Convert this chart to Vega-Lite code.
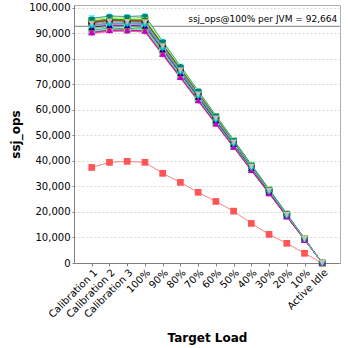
{
"$schema":"https://vega.github.io/schema/vega-lite/v6.json",
"width":266,"height":258,
"autosize":"none",
"padding":{"left":74,"top":5,"right":8,"bottom":85},
"background":"white",
"config":{"view":{"stroke":"#b0b0b0"},"font":"DejaVu Sans"},
"datasets":{"jvm":[
{"j":"j00","t":"Calibration 1","v":37400},{"j":"j00","t":"Calibration 2","v":39400},{"j":"j00","t":"Calibration 3","v":39800},{"j":"j00","t":"100%","v":39400},{"j":"j00","t":"90%","v":35100},{"j":"j00","t":"80%","v":31550},{"j":"j00","t":"70%","v":27650},{"j":"j00","t":"60%","v":24100},{"j":"j00","t":"50%","v":20300},{"j":"j00","t":"40%","v":15500},{"j":"j00","t":"30%","v":11200},{"j":"j00","t":"20%","v":7700},{"j":"j00","t":"10%","v":3800},{"j":"j00","t":"Active Idle","v":0},
{"j":"j01","t":"Calibration 1","v":95200},{"j":"j01","t":"Calibration 2","v":96000},{"j":"j01","t":"Calibration 3","v":95900},{"j":"j01","t":"100%","v":96100},{"j":"j01","t":"90%","v":86400},{"j":"j01","t":"80%","v":76500},{"j":"j01","t":"70%","v":67200},{"j":"j01","t":"60%","v":57300},{"j":"j01","t":"50%","v":48000},{"j":"j01","t":"40%","v":38200},{"j":"j01","t":"30%","v":28800},{"j":"j01","t":"20%","v":19200},{"j":"j01","t":"10%","v":9600},{"j":"j01","t":"Active Idle","v":0},
{"j":"j02","t":"Calibration 1","v":90500},{"j":"j02","t":"Calibration 2","v":91400},{"j":"j02","t":"Calibration 3","v":91000},{"j":"j02","t":"100%","v":91300},{"j":"j02","t":"90%","v":82000},{"j":"j02","t":"80%","v":72900},{"j":"j02","t":"70%","v":63900},{"j":"j02","t":"60%","v":54800},{"j":"j02","t":"50%","v":45500},{"j":"j02","t":"40%","v":36600},{"j":"j02","t":"30%","v":27300},{"j":"j02","t":"20%","v":18300},{"j":"j02","t":"10%","v":9100},{"j":"j02","t":"Active Idle","v":0},
{"j":"j03","t":"Calibration 1","v":94000},{"j":"j03","t":"Calibration 2","v":94900},{"j":"j03","t":"Calibration 3","v":94700},{"j":"j03","t":"100%","v":94500},{"j":"j03","t":"90%","v":85200},{"j":"j03","t":"80%","v":75600},{"j":"j03","t":"70%","v":66300},{"j":"j03","t":"60%","v":56700},{"j":"j03","t":"50%","v":47400},{"j":"j03","t":"40%","v":37800},{"j":"j03","t":"30%","v":28400},{"j":"j03","t":"20%","v":18900},{"j":"j03","t":"10%","v":9500},{"j":"j03","t":"Active Idle","v":0},
{"j":"j04","t":"Calibration 1","v":91800},{"j":"j04","t":"Calibration 2","v":92500},{"j":"j04","t":"Calibration 3","v":92600},{"j":"j04","t":"100%","v":92200},{"j":"j04","t":"90%","v":83000},{"j":"j04","t":"80%","v":73900},{"j":"j04","t":"70%","v":64500},{"j":"j04","t":"60%","v":55400},{"j":"j04","t":"50%","v":46100},{"j":"j04","t":"40%","v":36900},{"j":"j04","t":"30%","v":27700},{"j":"j04","t":"20%","v":18500},{"j":"j04","t":"10%","v":9200},{"j":"j04","t":"Active Idle","v":0},
{"j":"j05","t":"Calibration 1","v":95900},{"j":"j05","t":"Calibration 2","v":96500},{"j":"j05","t":"Calibration 3","v":96300},{"j":"j05","t":"100%","v":96600},{"j":"j05","t":"90%","v":86700},{"j":"j05","t":"80%","v":77000},{"j":"j05","t":"70%","v":67400},{"j":"j05","t":"60%","v":57600},{"j":"j05","t":"50%","v":48200},{"j":"j05","t":"40%","v":38500},{"j":"j05","t":"30%","v":28900},{"j":"j05","t":"20%","v":19300},{"j":"j05","t":"10%","v":9600},{"j":"j05","t":"Active Idle","v":0},
{"j":"j06","t":"Calibration 1","v":92600},{"j":"j06","t":"Calibration 2","v":93400},{"j":"j06","t":"Calibration 3","v":93000},{"j":"j06","t":"100%","v":93200},{"j":"j06","t":"90%","v":83700},{"j":"j06","t":"80%","v":74400},{"j":"j06","t":"70%","v":65200},{"j":"j06","t":"60%","v":55900},{"j":"j06","t":"50%","v":46500},{"j":"j06","t":"40%","v":37300},{"j":"j06","t":"30%","v":27900},{"j":"j06","t":"20%","v":18600},{"j":"j06","t":"10%","v":9300},{"j":"j06","t":"Active Idle","v":0},
{"j":"j07","t":"Calibration 1","v":89800},{"j":"j07","t":"Calibration 2","v":90600},{"j":"j07","t":"Calibration 3","v":90900},{"j":"j07","t":"100%","v":90500},{"j":"j07","t":"90%","v":81300},{"j":"j07","t":"80%","v":72300},{"j":"j07","t":"70%","v":63300},{"j":"j07","t":"60%","v":54200},{"j":"j07","t":"50%","v":45200},{"j":"j07","t":"40%","v":36100},{"j":"j07","t":"30%","v":27100},{"j":"j07","t":"20%","v":18100},{"j":"j07","t":"10%","v":9000},{"j":"j07","t":"Active Idle","v":0},
{"j":"j08","t":"Calibration 1","v":94300},{"j":"j08","t":"Calibration 2","v":95200},{"j":"j08","t":"Calibration 3","v":95000},{"j":"j08","t":"100%","v":94800},{"j":"j08","t":"90%","v":85500},{"j":"j08","t":"80%","v":75900},{"j":"j08","t":"70%","v":66400},{"j":"j08","t":"60%","v":57000},{"j":"j08","t":"50%","v":47400},{"j":"j08","t":"40%","v":38000},{"j":"j08","t":"30%","v":28500},{"j":"j08","t":"20%","v":19000},{"j":"j08","t":"10%","v":9500},{"j":"j08","t":"Active Idle","v":0},
{"j":"j09","t":"Calibration 1","v":91100},{"j":"j09","t":"Calibration 2","v":92000},{"j":"j09","t":"Calibration 3","v":91700},{"j":"j09","t":"100%","v":92100},{"j":"j09","t":"90%","v":82600},{"j":"j09","t":"80%","v":73400},{"j":"j09","t":"70%","v":64300},{"j":"j09","t":"60%","v":55100},{"j":"j09","t":"50%","v":45900},{"j":"j09","t":"40%","v":36700},{"j":"j09","t":"30%","v":27500},{"j":"j09","t":"20%","v":18400},{"j":"j09","t":"10%","v":9200},{"j":"j09","t":"Active Idle","v":0},
{"j":"j10","t":"Calibration 1","v":94800},{"j":"j10","t":"Calibration 2","v":95600},{"j":"j10","t":"Calibration 3","v":95500},{"j":"j10","t":"100%","v":95200},{"j":"j10","t":"90%","v":85800},{"j":"j10","t":"80%","v":76200},{"j":"j10","t":"70%","v":66700},{"j":"j10","t":"60%","v":57200},{"j":"j10","t":"50%","v":47700},{"j":"j10","t":"40%","v":38100},{"j":"j10","t":"30%","v":28600},{"j":"j10","t":"20%","v":19100},{"j":"j10","t":"10%","v":9500},{"j":"j10","t":"Active Idle","v":0},
{"j":"j11","t":"Calibration 1","v":92000},{"j":"j11","t":"Calibration 2","v":92900},{"j":"j11","t":"Calibration 3","v":92800},{"j":"j11","t":"100%","v":92600},{"j":"j11","t":"90%","v":83400},{"j":"j11","t":"80%","v":74200},{"j":"j11","t":"70%","v":64900},{"j":"j11","t":"60%","v":55600},{"j":"j11","t":"50%","v":46400},{"j":"j11","t":"40%","v":37100},{"j":"j11","t":"30%","v":27800},{"j":"j11","t":"20%","v":18500},{"j":"j11","t":"10%","v":9300},{"j":"j11","t":"Active Idle","v":0},
{"j":"j12","t":"Calibration 1","v":93200},{"j":"j12","t":"Calibration 2","v":94000},{"j":"j12","t":"Calibration 3","v":93900},{"j":"j12","t":"100%","v":93700},{"j":"j12","t":"90%","v":84400},{"j":"j12","t":"80%","v":75000},{"j":"j12","t":"70%","v":65700},{"j":"j12","t":"60%","v":56300},{"j":"j12","t":"50%","v":46900},{"j":"j12","t":"40%","v":37500},{"j":"j12","t":"30%","v":28100},{"j":"j12","t":"20%","v":18800},{"j":"j12","t":"10%","v":9400},{"j":"j12","t":"Active Idle","v":0},
{"j":"j13","t":"Calibration 1","v":90200},{"j":"j13","t":"Calibration 2","v":91100},{"j":"j13","t":"Calibration 3","v":91300},{"j":"j13","t":"100%","v":90800},{"j":"j13","t":"90%","v":81800},{"j":"j13","t":"80%","v":72700},{"j":"j13","t":"70%","v":63600},{"j":"j13","t":"60%","v":54500},{"j":"j13","t":"50%","v":45400},{"j":"j13","t":"40%","v":36400},{"j":"j13","t":"30%","v":27300},{"j":"j13","t":"20%","v":18200},{"j":"j13","t":"10%","v":9100},{"j":"j13","t":"Active Idle","v":0},
{"j":"j14","t":"Calibration 1","v":95500},{"j":"j14","t":"Calibration 2","v":96300},{"j":"j14","t":"Calibration 3","v":96100},{"j":"j14","t":"100%","v":96400},{"j":"j14","t":"90%","v":86400},{"j":"j14","t":"80%","v":76800},{"j":"j14","t":"70%","v":67200},{"j":"j14","t":"60%","v":57600},{"j":"j14","t":"50%","v":48000},{"j":"j14","t":"40%","v":38400},{"j":"j14","t":"30%","v":28800},{"j":"j14","t":"20%","v":19200},{"j":"j14","t":"10%","v":9600},{"j":"j14","t":"Active Idle","v":0},
{"j":"j15","t":"Calibration 1","v":91400},{"j":"j15","t":"Calibration 2","v":92200},{"j":"j15","t":"Calibration 3","v":92100},{"j":"j15","t":"100%","v":91900},{"j":"j15","t":"90%","v":82800},{"j":"j15","t":"80%","v":73600},{"j":"j15","t":"70%","v":64400},{"j":"j15","t":"60%","v":55200},{"j":"j15","t":"50%","v":46000},{"j":"j15","t":"40%","v":36800},{"j":"j15","t":"30%","v":27600},{"j":"j15","t":"20%","v":18400},{"j":"j15","t":"10%","v":9200},{"j":"j15","t":"Active Idle","v":0},
{"j":"j16","t":"Calibration 1","v":93600},{"j":"j16","t":"Calibration 2","v":94500},{"j":"j16","t":"Calibration 3","v":94300},{"j":"j16","t":"100%","v":94100},{"j":"j16","t":"90%","v":84800},{"j":"j16","t":"80%","v":75400},{"j":"j16","t":"70%","v":65900},{"j":"j16","t":"60%","v":56500},{"j":"j16","t":"50%","v":47100},{"j":"j16","t":"40%","v":37700},{"j":"j16","t":"30%","v":28300},{"j":"j16","t":"20%","v":18800},{"j":"j16","t":"10%","v":9400},{"j":"j16","t":"Active Idle","v":0},
{"j":"j17","t":"Calibration 1","v":90900},{"j":"j17","t":"Calibration 2","v":91700},{"j":"j17","t":"Calibration 3","v":91600},{"j":"j17","t":"100%","v":91400},{"j":"j17","t":"90%","v":82300},{"j":"j17","t":"80%","v":73200},{"j":"j17","t":"70%","v":64000},{"j":"j17","t":"60%","v":54900},{"j":"j17","t":"50%","v":45700},{"j":"j17","t":"40%","v":36600},{"j":"j17","t":"30%","v":27400},{"j":"j17","t":"20%","v":18300},{"j":"j17","t":"10%","v":9100},{"j":"j17","t":"Active Idle","v":0},
{"j":"j18","t":"Calibration 1","v":95000},{"j":"j18","t":"Calibration 2","v":95900},{"j":"j18","t":"Calibration 3","v":95700},{"j":"j18","t":"100%","v":95500},{"j":"j18","t":"90%","v":86000},{"j":"j18","t":"80%","v":76500},{"j":"j18","t":"70%","v":66900},{"j":"j18","t":"60%","v":57400},{"j":"j18","t":"50%","v":47800},{"j":"j18","t":"40%","v":38200},{"j":"j18","t":"30%","v":28700},{"j":"j18","t":"20%","v":19100},{"j":"j18","t":"10%","v":9600},{"j":"j18","t":"Active Idle","v":0},
{"j":"j19","t":"Calibration 1","v":92800},{"j":"j19","t":"Calibration 2","v":93600},{"j":"j19","t":"Calibration 3","v":93500},{"j":"j19","t":"100%","v":93300},{"j":"j19","t":"90%","v":84100},{"j":"j19","t":"80%","v":74700},{"j":"j19","t":"70%","v":65400},{"j":"j19","t":"60%","v":56000},{"j":"j19","t":"50%","v":46700},{"j":"j19","t":"40%","v":37400},{"j":"j19","t":"30%","v":28000},{"j":"j19","t":"20%","v":18700},{"j":"j19","t":"10%","v":9300},{"j":"j19","t":"Active Idle","v":0},
{"j":"j20","t":"Calibration 1","v":89900},{"j":"j20","t":"Calibration 2","v":90800},{"j":"j20","t":"Calibration 3","v":90700},{"j":"j20","t":"100%","v":90400},{"j":"j20","t":"90%","v":81500},{"j":"j20","t":"80%","v":72500},{"j":"j20","t":"70%","v":63400},{"j":"j20","t":"60%","v":54400},{"j":"j20","t":"50%","v":45300},{"j":"j20","t":"40%","v":36200},{"j":"j20","t":"30%","v":27200},{"j":"j20","t":"20%","v":18100},{"j":"j20","t":"10%","v":9100},{"j":"j20","t":"Active Idle","v":0},
{"j":"j21","t":"Calibration 1","v":93900},{"j":"j21","t":"Calibration 2","v":94700},{"j":"j21","t":"Calibration 3","v":94500},{"j":"j21","t":"100%","v":94600},{"j":"j21","t":"90%","v":85000},{"j":"j21","t":"80%","v":75500},{"j":"j21","t":"70%","v":66100},{"j":"j21","t":"60%","v":56600},{"j":"j21","t":"50%","v":47200},{"j":"j21","t":"40%","v":37800},{"j":"j21","t":"30%","v":28300},{"j":"j21","t":"20%","v":18900},{"j":"j21","t":"10%","v":9400},{"j":"j21","t":"Active Idle","v":0},
{"j":"j22","t":"Calibration 1","v":92300},{"j":"j22","t":"Calibration 2","v":93100},{"j":"j22","t":"Calibration 3","v":93000},{"j":"j22","t":"100%","v":92800},{"j":"j22","t":"90%","v":83600},{"j":"j22","t":"80%","v":74300},{"j":"j22","t":"70%","v":65000},{"j":"j22","t":"60%","v":55700},{"j":"j22","t":"50%","v":46500},{"j":"j22","t":"40%","v":37200},{"j":"j22","t":"30%","v":27900},{"j":"j22","t":"20%","v":18600},{"j":"j22","t":"10%","v":9300},{"j":"j22","t":"Active Idle","v":0},
{"j":"j23","t":"Calibration 1","v":94500},{"j":"j23","t":"Calibration 2","v":95400},{"j":"j23","t":"Calibration 3","v":95200},{"j":"j23","t":"100%","v":95000},{"j":"j23","t":"90%","v":85600},{"j":"j23","t":"80%","v":76100},{"j":"j23","t":"70%","v":66600},{"j":"j23","t":"60%","v":57100},{"j":"j23","t":"50%","v":47500},{"j":"j23","t":"40%","v":38000},{"j":"j23","t":"30%","v":28500},{"j":"j23","t":"20%","v":19000},{"j":"j23","t":"10%","v":9500},{"j":"j23","t":"Active Idle","v":0},
{"j":"j24","t":"Calibration 1","v":90300},{"j":"j24","t":"Calibration 2","v":91200},{"j":"j24","t":"Calibration 3","v":91100},{"j":"j24","t":"100%","v":90900},{"j":"j24","t":"90%","v":81900},{"j":"j24","t":"80%","v":72800},{"j":"j24","t":"70%","v":63700},{"j":"j24","t":"60%","v":54600},{"j":"j24","t":"50%","v":45500},{"j":"j24","t":"40%","v":36400},{"j":"j24","t":"30%","v":27300},{"j":"j24","t":"20%","v":18200},{"j":"j24","t":"10%","v":9100},{"j":"j24","t":"Active Idle","v":0},
{"j":"j25","t":"Calibration 1","v":93000},{"j":"j25","t":"Calibration 2","v":93800},{"j":"j25","t":"Calibration 3","v":93700},{"j":"j25","t":"100%","v":93500},{"j":"j25","t":"90%","v":84200},{"j":"j25","t":"80%","v":74900},{"j":"j25","t":"70%","v":65500},{"j":"j25","t":"60%","v":56200},{"j":"j25","t":"50%","v":46800},{"j":"j25","t":"40%","v":37400},{"j":"j25","t":"30%","v":28100},{"j":"j25","t":"20%","v":18700},{"j":"j25","t":"10%","v":9400},{"j":"j25","t":"Active Idle","v":0},
{"j":"j26","t":"Calibration 1","v":95700},{"j":"j26","t":"Calibration 2","v":96700},{"j":"j26","t":"Calibration 3","v":96500},{"j":"j26","t":"100%","v":96800},{"j":"j26","t":"90%","v":86800},{"j":"j26","t":"80%","v":77100},{"j":"j26","t":"70%","v":67500},{"j":"j26","t":"60%","v":57800},{"j":"j26","t":"50%","v":48200},{"j":"j26","t":"40%","v":38600},{"j":"j26","t":"30%","v":28900},{"j":"j26","t":"20%","v":19300},{"j":"j26","t":"10%","v":9600},{"j":"j26","t":"Active Idle","v":0},
{"j":"j27","t":"Calibration 1","v":93700},{"j":"j27","t":"Calibration 2","v":94600},{"j":"j27","t":"Calibration 3","v":94400},{"j":"j27","t":"100%","v":94300},{"j":"j27","t":"90%","v":84900},{"j":"j27","t":"80%","v":75400},{"j":"j27","t":"70%","v":66000},{"j":"j27","t":"60%","v":56600},{"j":"j27","t":"50%","v":47200},{"j":"j27","t":"40%","v":37700},{"j":"j27","t":"30%","v":28300},{"j":"j27","t":"20%","v":18900},{"j":"j27","t":"10%","v":9400},{"j":"j27","t":"Active Idle","v":0}
],"ref":[{"v":92664,"t":"Active Idle","label":"ssj_ops@100% per JVM = 92,664"}]},
"encoding":{
"x":{"field":"t","type":"ordinal","scale":{"type":"point","padding":1.2,"domain":["Calibration 1","Calibration 2","Calibration 3","100%","90%","80%","70%","60%","50%","40%","30%","20%","10%","Active Idle"]},
"axis":{"title":"Target Load","titleFont":"DejaVu Sans","titleFontSize":12,"titleFontWeight":"bold","titleColor":"black","titlePadding":13,"labelAngle":-45,"labelFont":"DejaVu Sans","labelFontSize":10,"labelColor":"black","domainColor":"#808080","tickColor":"#808080","tickSize":3,"labelPadding":1,"grid":false}},
"y":{"field":"v","type":"quantitative","scale":{"domain":[0,101000],"nice":false},
"axis":{"title":"ssj_ops","titleFont":"DejaVu Sans","titleFontSize":12,"titleFontWeight":"bold","titleColor":"black","titlePadding":6,"values":[0,10000,20000,30000,40000,50000,60000,70000,80000,90000,100000],"format":",d","labelFont":"DejaVu Sans","labelFontSize":10,"labelColor":"black","domainColor":"#808080","tickColor":"#808080","tickSize":2,"labelPadding":2,"gridColor":"#d8d8d8","gridDash":[2,2]}}
},
"layer":[
{"data":{"name":"ref"},"mark":{"type":"rule","color":"#808080","strokeWidth":1},"encoding":{"x":null,"y":{"field":"v","type":"quantitative"}}},
{"data":{"name":"ref"},"mark":{"type":"text","align":"right","baseline":"bottom","dx":15,"dy":-2,"font":"DejaVu Sans","fontSize":9,"color":"black"},"encoding":{"text":{"field":"label"}}},
{"data":{"name":"jvm"},"mark":{"type":"line","strokeWidth":1,"strokeOpacity":0.75},"encoding":{"color":{"field":"j","type":"nominal","legend":null,"scale":{"range":["#FF5555","#5555FF","#55FF55","#404040","#808080","#55FFFF","#FFAFAF","#FF55FF","#C00000","#0000C0","#00C000","#C0C000","#808000","#800080","#FFFF55","#40FFFF","#4040FF","#40FF40","#FFFF40","#FF40FF","#FF4040","#800000","#000080","#008000","#C000C0","#00C0C0","#008080","#C0C0C0"]}}}},
{"data":{"name":"jvm"},"mark":{"type":"point","filled":true,"opacity":1,"size":45},"encoding":{"color":{"field":"j","type":"nominal","legend":null},"shape":{"field":"j","type":"nominal","legend":null,"scale":{"range":["square","circle","triangle-up","M-1,-0.5L1,-0.5L1,0.5L-1,0.5Z","triangle-right","triangle-down","M-1,0A1,0.6,0,1,1,1,0A1,0.6,0,1,1,-1,0Z","M-1,-0.5L1,-0.5L1,0.5L-1,0.5Z","M-0.5,-1L0.5,-1L0.5,1L-0.5,1Z","triangle-left","square","circle","M-1,-0.5L1,-0.5L1,0.5L-1,0.5Z","triangle-down","diamond","square","M-1,0A1,0.6,0,1,1,1,0A1,0.6,0,1,1,-1,0Z","triangle-right","M-0.5,-1L0.5,-1L0.5,1L-0.5,1Z","triangle-left","triangle-down","circle","triangle-up","diamond","triangle-up","diamond","M-1,0A1,0.6,0,1,1,1,0A1,0.6,0,1,1,-1,0Z","triangle-down"]}}}}
]
}
